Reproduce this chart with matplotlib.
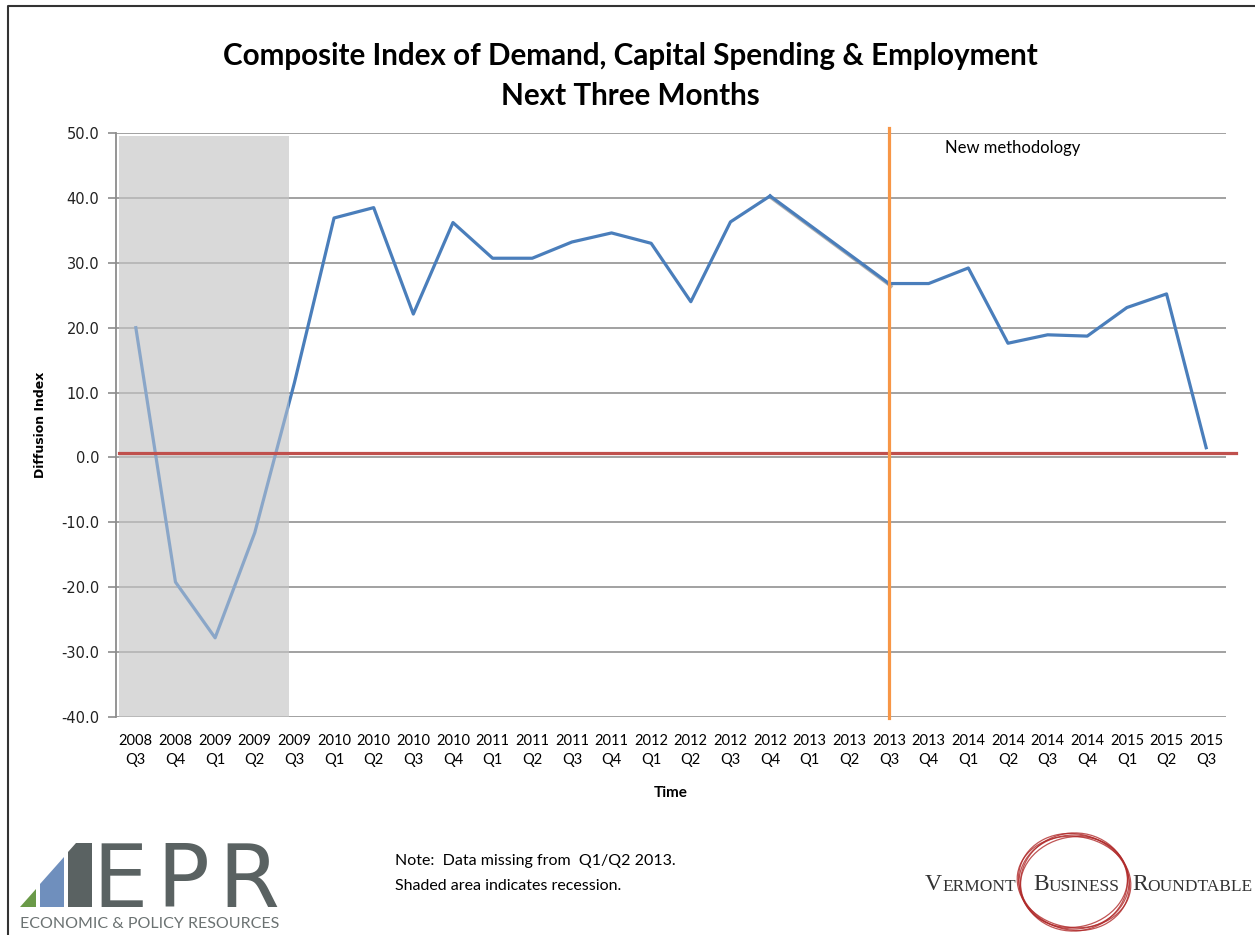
import matplotlib
matplotlib.use("Agg")
import matplotlib.pyplot as plt
import matplotlib.patheffects as pe
from matplotlib.patches import Polygon, Ellipse
import numpy as np

# quarters on the x axis (2009 Q4 is not in the chart)
quarters = ["2008\nQ3", "2008\nQ4", "2009\nQ1", "2009\nQ2", "2009\nQ3",
            "2010\nQ1", "2010\nQ2", "2010\nQ3", "2010\nQ4",
            "2011\nQ1", "2011\nQ2", "2011\nQ3", "2011\nQ4",
            "2012\nQ1", "2012\nQ2", "2012\nQ3", "2012\nQ4",
            "2013\nQ1", "2013\nQ2", "2013\nQ3", "2013\nQ4",
            "2014\nQ1", "2014\nQ2", "2014\nQ3", "2014\nQ4",
            "2015\nQ1", "2015\nQ2", "2015\nQ3"]

# diffusion index, nan = data missing (Q1/Q2 2013)
index_vals = [20.0, -19.2, -27.8, -11.6, 11.5,
              36.9, 38.5, 22.1, 36.2,
              30.7, 30.7, 33.2, 34.6,
              33.0, 24.0, 36.3, 40.3,
              np.nan, np.nan, 26.8, 26.8,
              29.2, 17.6, 18.9, 18.7,
              23.1, 25.2, 1.5]

recession = (-0.42, 3.86)     # shaded span in category units
ref_level = 0.7               # red reference line
new_method_at = 19            # 2013 Q3
y_ticks = np.arange(-40, 51, 10)

font = "Lato"
blue = "#4a7ebb"

fig = plt.figure(figsize=(12.55, 9.35), dpi=100)

# background layer for border / logos, in pixel coords
deco = fig.add_axes([0, 0, 1, 1])
deco.set_xlim(0, 1255)
deco.set_ylim(935, 0)
deco.axis("off")

ax = fig.add_axes([116 / 1255, 1 - 717 / 935, 1110 / 1255, 584 / 935])

x = np.arange(len(quarters))
vals = np.array(index_vals)

ax.axvspan(recession[0], recession[1], ymax=(49.5 + 40) / 90, color="#d9d9d9", lw=0, zorder=0.5)
ax.plot(x, vals, color=blue, lw=2.3, zorder=2)
# hand drawn bridge over missing quarters
i0, i1 = 16, 19
ax.plot([x[i0], x[i1]], [vals[i0], vals[i1]], color=blue, lw=2.3, zorder=2,
        path_effects=[pe.SimpleLineShadow(offset=(1.5, -2), shadow_color="gray", alpha=0.6),
                      pe.Normal()])
# shade over the line so it looks faded inside the recession
ax.axvspan(recession[0], recession[1], ymax=(49.5 + 40) / 90, color="#d9d9d9", alpha=0.45, lw=0, zorder=3)

ax.plot([recession[0], len(quarters) - 0.25], [ref_level, ref_level], color="#c0504d", lw=2.3,
        zorder=4, clip_on=False)
ax.plot([new_method_at, new_method_at], [-40.2, 50.8], color="#f79646", lw=2.3, zorder=4, clip_on=False)
ax.text(new_method_at + 1.41, 47.7, "New methodology", fontsize=12, family=font, va="center", ha="left")

ax.set_xlim(-0.5, len(quarters) - 0.5)
ax.set_ylim(-40, 50)
ax.set_yticks(y_ticks)
ax.set_yticklabels([f"{v:.1f}" for v in y_ticks], fontsize=10.5, family="DejaVu Sans", color="#222222")
ax.set_xticks(x)
ax.set_xticklabels(quarters, fontsize=10.5, family=font, linespacing=1.45)
ax.tick_params(axis="x", length=0, pad=12)
ax.tick_params(axis="y", length=6, color="#8c8c8c", width=1.2, pad=6)
ax.grid(axis="y", color="#9a9a9a", lw=1.3)
ax.set_axisbelow(True)
for s in ["top", "right", "bottom"]:
    ax.spines[s].set_visible(False)
ax.spines["left"].set_color("#8c8c8c")
ax.spines["left"].set_linewidth(1.3)

ax.set_ylabel("Diffusion Index", fontsize=9, family="DejaVu Sans", weight="bold", labelpad=10)
ax.set_xlabel("Time", fontsize=11, family=font, weight="bold", labelpad=14)

fig.text(0.502, 1 - 56 / 935, "Composite Index of Demand, Capital Spending & Employment",
         fontsize=21.3, family=font, weight="bold", ha="center", va="center")
fig.text(0.502, 1 - 96 / 935, "Next Three Months",
         fontsize=21.3, family=font, weight="bold", ha="center", va="center")

# border
deco.plot([8, 8, 1255], [935, 6, 6], color="#333333", lw=1.5)

# note
deco.text(395, 861, "Note:  Data missing from  Q1/Q2 2013.", fontsize=11.5, family=font, va="center")
deco.text(395, 886, "Shaded area indicates recession.", fontsize=11.5, family=font, va="center")

# EPR logo
deco.add_patch(Polygon([(20, 907), (36, 907), (36, 889)], closed=True, color="#6a9a48", lw=0))
deco.add_patch(Polygon([(40, 907), (64, 907), (64, 857), (40, 884)], closed=True, color="#6f8fbd", lw=0))
deco.add_patch(Polygon([(68, 907), (92, 907), (92, 843), (76, 843), (68, 852)], closed=True,
                       color="#5a6262", lw=0))
for letter, lx in zip("EPR", [92, 156, 218]):
    deco.text(lx, 907, letter, fontsize=63, family="DejaVu Sans", color="#5a6262", va="baseline", ha="left")
deco.text(20, 924, "ECONOMIC & POLICY RESOURCES", fontsize=11.5, family="Lato", color="#6b7272",
          va="center", ha="left")

# Vermont Business Roundtable logo
for dw, dh, ang in [(0, 0, 0), (4, -3, 8), (-3, 4, -6), (2, 2, 15), (-2, -4, -12)]:
    deco.add_patch(Ellipse((1074, 882), 110 + dw, 94 + dh, angle=ang, fill=False,
                           ec="#b02a2a", lw=0.9, alpha=0.8))
for word, wx in zip(["Vermont", "Business", "Roundtable"], [925, 1033, 1132]):
    t = deco.text(wx, 895, word[0], fontsize=17, family="Liberation Serif", color="#333333",
                  va="bottom", ha="left")
    deco.annotate(word[1:].upper(), xy=(1, 0), xycoords=t, fontsize=12.5, family="Liberation Serif",
                  color="#333333", va="bottom", ha="left")

fig.savefig("out.png", dpi=100)
